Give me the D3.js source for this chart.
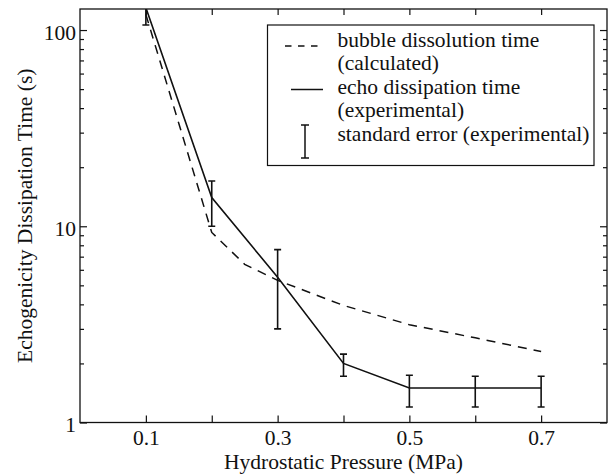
<!DOCTYPE html>
<html>
<head>
<meta charset="UTF-8" />
<title>echo dissipation time vs pressure</title>
<script src="https://d3js.org/d3.v7.min.js"></script>
<style>
	body { margin: 0; background: #fff; }
	text { font-family: "Liberation Serif", "Times New Roman", serif; fill: #111; }
</style>
</head>
<body>
<svg id="chart" width="611" height="475"></svg>
<script>
// hydrostatic pressure (MPa)
var pressure = [0.1, 0.2, 0.3, 0.4, 0.5, 0.6, 0.7]
// calculated bubble dissolution time (s)
var calcPressure = [0.1, 0.2, 0.25, 0.3, 0.4, 0.5, 0.6, 0.7]
var calcTime = [120, 9.3, 6.4, 5.3, 3.95, 3.15, 2.7, 2.3]
// experimental echo dissipation time (s) and standard error bounds
var echoTime = [130, 14, 5.5, 2.0, 1.5, 1.5, 1.5]
var errLow = [106, 10, 3.0, 1.72, 1.2, 1.2, 1.2]
var errHigh = [160, 17, 7.6, 2.23, 1.74, 1.72, 1.72]
// ticks
var xTicks = [0.1, 0.2, 0.3, 0.4, 0.5, 0.6, 0.7]
var xLabels = [0.1, 0.3, 0.5, 0.7]
var legendText = ["bubble dissolution time", "(calculated)", "echo dissipation time", "(experimental)", "standard error (experimental)"]

var fs = 21.5
// (window.top is read-only, so no "top" here)
var pL = 80, pR = 607, pT = 9, pB = 422.5

var svg = d3.select("#chart")
var x = d3.scaleLinear().domain([0, 0.8]).range([pL, pR])
var y = d3.scaleLog().domain([1, 128]).range([pB, pT])

var yAll = y.ticks()
var yMajor = yAll.filter(d => Math.abs(Math.log10(d) - Math.round(Math.log10(d))) < 1e-9)
var yMinor = yAll.filter(d => yMajor.indexOf(d) < 0)

function clean(g) {
	g.select(".domain").remove()
	g.selectAll("line").attr("stroke", "#111").attr("stroke-width", 1.2)
	g.attr("font-family", null).attr("font-size", null)
}

// left axis
svg.append("g").attr("transform", `translate(${pL},0)`)
	.call(d3.axisLeft(y).tickValues(yMajor).tickSize(-7).tickPadding(4).tickFormat(d3.format("d")))
	.call(clean)
	.selectAll("text").style("font-size", fs + "px").attr("dy", "0.42em")
svg.append("g").attr("transform", `translate(${pL},0)`)
	.call(d3.axisLeft(y).tickValues(yMinor).tickSize(-4).tickFormat(""))
	.call(clean)
// right axis
svg.append("g").attr("transform", `translate(${pR},0)`)
	.call(d3.axisRight(y).tickValues(yMajor).tickSize(-7).tickFormat(""))
	.call(clean)
svg.append("g").attr("transform", `translate(${pR},0)`)
	.call(d3.axisRight(y).tickValues(yMinor).tickSize(-4).tickFormat(""))
	.call(clean)
// bottom axis
svg.append("g").attr("transform", `translate(0,${pB})`)
	.call(d3.axisBottom(x).tickValues(xTicks).tickSize(-7).tickPadding(7)
		.tickFormat(d => xLabels.indexOf(d) >= 0 ? d : ""))
	.call(clean)
	.selectAll("text").style("font-size", fs + "px")
// top axis
svg.append("g").attr("transform", `translate(0,${pT})`)
	.call(d3.axisTop(x).tickValues(xTicks).tickSize(-6).tickFormat(""))
	.call(clean)

// frame
svg.append("rect")
	.attr("x", pL).attr("y", pT)
	.attr("width", pR - pL).attr("height", pB - pT)
	.attr("fill", "none").attr("stroke", "#111").attr("stroke-width", 1.3)

// axis titles
svg.append("text")
	.attr("x", (pL + pR) / 2).attr("y", 469)
	.attr("text-anchor", "middle").style("font-size", fs + "px")
	.text("Hydrostatic Pressure (MPa)")
svg.append("text")
	.attr("transform", `translate(32,${(pT + pB) / 2}) rotate(-90)`)
	.attr("text-anchor", "middle").style("font-size", fs + "px")
	.text("Echogenicity Dissipation Time (s)")

// clip to plot box
svg.append("clipPath").attr("id", "plotClip")
	.append("rect").attr("x", pL).attr("y", pT)
	.attr("width", pR - pL).attr("height", pB - pT)
var plot = svg.append("g").attr("clip-path", "url(#plotClip)")

// calculated curve
var calcLine = d3.line()
	.x((d, i) => x(calcPressure[i]))
	.y(d => y(d))
plot.append("path")
	.attr("d", calcLine(calcTime))
	.attr("fill", "none").attr("stroke", "#111")
	.attr("stroke-width", 1.5).attr("stroke-dasharray", "9,7")

// experimental line
var echoLine = d3.line()
	.x((d, i) => x(pressure[i]))
	.y(d => y(d))
plot.append("path")
	.attr("d", echoLine(echoTime))
	.attr("fill", "none").attr("stroke", "#111").attr("stroke-width", 1.6)

// error bars
var cap = 3.5
pressure.forEach((p, i) => {
	var eb = plot.append("g").attr("stroke", "#111").attr("stroke-width", 1.6)
	eb.append("line").attr("x1", x(p)).attr("x2", x(p)).attr("y1", y(errLow[i])).attr("y2", y(errHigh[i]))
	eb.append("line").attr("x1", x(p) - cap).attr("x2", x(p) + cap).attr("y1", y(errLow[i])).attr("y2", y(errLow[i]))
	eb.append("line").attr("x1", x(p) - cap).attr("x2", x(p) + cap).attr("y1", y(errHigh[i])).attr("y2", y(errHigh[i]))
})

// legend
var lg = svg.append("g")
lg.append("rect").attr("x", 267.5).attr("y", 25).attr("width", 326.5).attr("height", 140.5)
	.attr("fill", "#fff").attr("stroke", "#111").attr("stroke-width", 1.2)
lg.selectAll("text.lab").data(legendText).enter().append("text")
	.attr("class", "lab")
	.attr("x", 337.5).attr("y", (d, i) => 46.7 + 23.5 * i)
	.style("font-size", fs + "px")
	.text(d => d)
lg.append("line").attr("x1", 285).attr("x2", 318).attr("y1", 46).attr("y2", 46)
	.attr("stroke", "#111").attr("stroke-width", 1.5).attr("stroke-dasharray", "6.5,6.5")
lg.append("line").attr("x1", 291).attr("x2", 323).attr("y1", 89.5).attr("y2", 89.5)
	.attr("stroke", "#111").attr("stroke-width", 1.5)
var li = lg.append("g").attr("stroke", "#111").attr("stroke-width", 1.5)
li.append("line").attr("x1", 305).attr("x2", 305).attr("y1", 125).attr("y2", 158)
li.append("line").attr("x1", 301).attr("x2", 309).attr("y1", 125).attr("y2", 125)
li.append("line").attr("x1", 301).attr("x2", 309).attr("y1", 158).attr("y2", 158)
</script>
</body>
</html>
